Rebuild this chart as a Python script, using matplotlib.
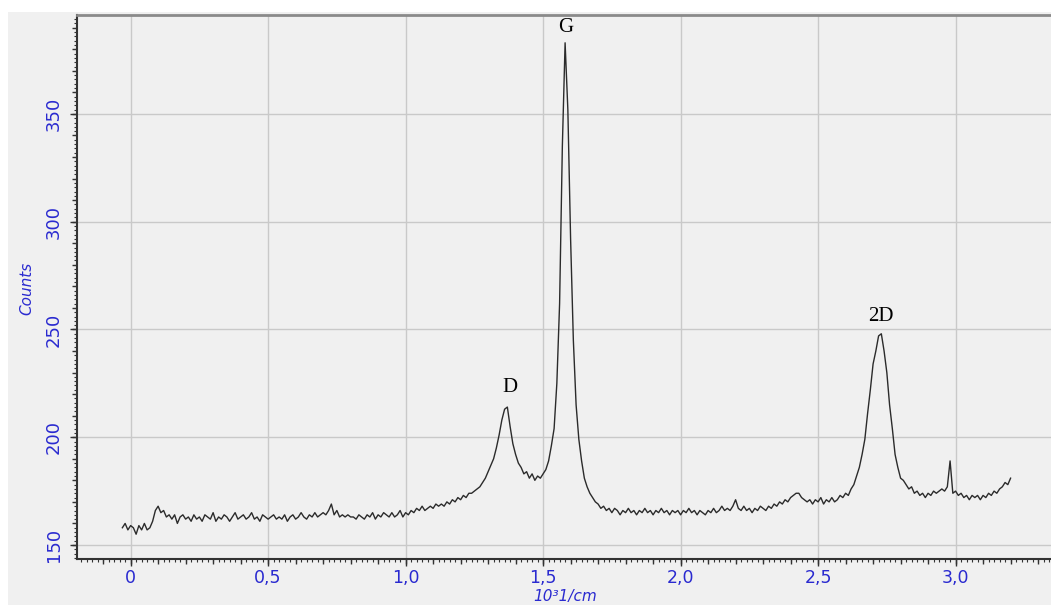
import numpy as np
import matplotlib
matplotlib.use("Agg")
import matplotlib.pyplot as plt
from matplotlib.ticker import MultipleLocator, FuncFormatter
from matplotlib.patches import Rectangle

# ---- data (Raman spectrum) ----
x_start = -0.03
x_step = 0.01
counts = [
    158, 160, 157, 159, 158, 155, 159, 157, 160, 157, 158, 161,          # -0.03..0.08
    166, 168, 165, 166, 163, 164, 162, 164, 160, 163, 164, 162,          # 0.09..0.20
    163, 161, 164, 162, 163, 161, 164, 163, 162, 165, 161, 163,          # 0.21..0.32
    162, 164, 163, 161, 163, 165, 162, 163, 164, 162, 163, 165,          # 0.33..0.44
    162, 163, 161, 164, 163, 162, 163, 164, 162, 163, 162, 164,          # 0.45..0.56
    161, 163, 164, 162, 163, 165, 163, 162, 164, 163, 165, 163,          # 0.57..0.68
    164, 165, 164, 166, 169, 164, 166, 163, 164, 163, 164, 163,          # 0.69..0.80
    163, 162, 164, 163, 162, 164, 163, 165, 162, 164, 163, 165,          # 0.81..0.92
    164, 163, 165, 163, 164, 166, 163, 165, 164, 166, 165, 167,          # 0.93..1.04
    166, 168, 166, 167, 168, 167, 169, 168, 169, 168, 170, 169,          # 1.05..1.16
    171, 170, 172, 171, 173, 172, 174, 174, 175, 176, 177, 179,          # 1.17..1.28
    181, 184, 187, 190, 195, 201, 208, 213, 214, 205, 197, 192,          # 1.29..1.40
    188, 186, 183, 184, 181, 183, 180, 182, 181, 183, 185, 189,          # 1.41..1.52
    196, 204, 225, 262, 335, 383, 352, 292, 245, 215, 199, 189,          # 1.53..1.64
    181, 177, 174, 172, 170, 169, 167, 168, 166, 167, 165, 167,          # 1.65..1.76
    166, 164, 166, 165, 167, 165, 166, 164, 166, 165, 167, 165,          # 1.77..1.88
    166, 164, 166, 165, 167, 165, 166, 164, 166, 165, 166, 164,          # 1.89..2.00
    166, 165, 167, 165, 166, 164, 166, 165, 164, 166, 165, 167,          # 2.01..2.12
    165, 166, 168, 166, 167, 166, 168, 171, 167, 166, 168, 166,          # 2.13..2.24
    167, 165, 167, 166, 168, 167, 166, 168, 167, 169, 168, 170,          # 2.25..2.36
    169, 171, 170, 172, 173, 174, 174, 172, 171, 170, 171, 169,          # 2.37..2.48
    171, 170, 172, 169, 171, 170, 172, 170, 171, 173, 172, 174,          # 2.49..2.60
    173, 176, 178, 182, 186, 192, 199, 211, 222, 234, 240, 247,          # 2.61..2.72
    248, 240, 230, 215, 204, 192, 186, 181, 180, 178, 176, 177,          # 2.73..2.84
    174, 175, 173, 174, 172, 174, 173, 175, 174, 175, 176, 175,          # 2.85..2.96
    177, 189, 174, 175, 173, 174, 172, 173, 171, 173, 172, 173,          # 2.97..3.08
    171, 173, 172, 174, 173, 175, 174, 176, 177, 179, 178, 181,          # 3.09..3.20
]
wavenumber = x_start + x_step * np.arange(len(counts))

x_major_ticks = [0, 0.5, 1.0, 1.5, 2.0, 2.5, 3.0]
y_major_ticks = [150, 200, 250, 300, 350]
peak_labels = ["D", "G", "2D"]
peak_pos = [(1.379, 222.9), (1.583, 389.9), (2.728, 255.8)]

BLUE = "#2a2ad0"
BG = "#f0f0f0"

fig = plt.figure(figsize=(10.51, 6.05), dpi=100)
fig.patch.set_facecolor("white")
fig.patches.append(Rectangle((8 / 1051, 0), 1, (605 - 12) / 605,
                             transform=fig.transFigure, facecolor=BG,
                             edgecolor="none", zorder=-10))

ax = fig.add_axes([77 / 1051, 1 - 559 / 605, (1051 - 77) / 1051, (559 - 15) / 605])
ax.set_facecolor(BG)
ax.plot(wavenumber, counts, color="#2b2b2b", lw=1.0)

ax.set_xlim(-0.195, 3.347)
ax.set_ylim(143.5, 395.9)

ax.set_xticks(x_major_ticks)
ax.set_yticks(y_major_ticks)
ax.xaxis.set_major_formatter(FuncFormatter(
    lambda v, p: "0" if abs(v) < 1e-9 else f"{v:.1f}".replace(".", ",")))
ax.xaxis.set_minor_locator(MultipleLocator(0.02))
ax.yaxis.set_minor_locator(MultipleLocator(2))

ax.grid(True, which="major", color="#c9c9c9", lw=1.0)
ax.set_axisbelow(True)

ax.tick_params(axis="both", which="major", direction="out", length=5,
               width=1, color="#333333", labelcolor=BLUE, labelsize=13)
ax.tick_params(axis="x", which="major", labelsize=12.5, pad=2)
ax.tick_params(axis="both", which="minor", direction="out", length=2,
               width=0.8, color="#333333")
ax.tick_params(axis="y", which="major", pad=5)
for lab in ax.get_yticklabels():
    lab.set_rotation(90)
    lab.set_va("center")

# medium ticks
secx = ax.secondary_xaxis("bottom")
secx.set_xticks(np.arange(-0.1, 3.35, 0.1))
secx.tick_params(length=3.5, width=1, color="#333333", labelbottom=False)
secx.spines["bottom"].set_visible(False)
secy = ax.secondary_yaxis("left")
secy.set_yticks(np.arange(150, 400, 10))
secy.tick_params(length=3.5, width=1, color="#333333", labelleft=False)
secy.spines["left"].set_visible(False)

ax.spines["right"].set_visible(False)
ax.spines["top"].set_color("#8a8a8a")
ax.spines["top"].set_linewidth(2)
ax.spines["left"].set_color("#333333")
ax.spines["left"].set_linewidth(1.5)
ax.spines["bottom"].set_color("#333333")
ax.spines["bottom"].set_linewidth(1.5)

for lab, (px, py) in zip(peak_labels, peak_pos):
    ax.text(px, py, lab, ha="center", va="center", fontsize=15,
            family="Liberation Serif", color="black")

fig.text(27 / 1051, 1 - 288 / 605, "Counts", rotation=90, ha="center",
         va="center", color=BLUE, fontsize=11, style="italic")
fig.text(565 / 1051, 1 / 605, "10³1/cm", ha="center", va="bottom",
         color=BLUE, fontsize=11, style="italic")

fig.savefig("out.png", dpi=100, facecolor=fig.get_facecolor())
